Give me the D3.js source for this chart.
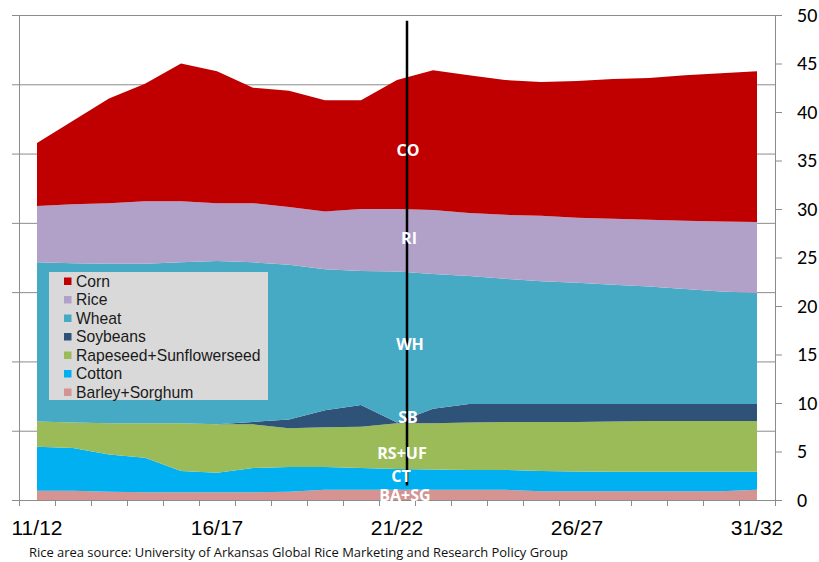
<!DOCTYPE html>
<html>
<head>
<meta charset="utf-8">
<script src="https://cdn.jsdelivr.net/npm/d3@7"></script>
<style>
body{margin:0;background:#fff}
</style>
</head>
<body>
<div id="chart"></div>
<script>
// marketing years
var years = ['11/12','12/13','13/14','14/15','15/16','16/17','17/18','18/19','19/20','20/21',
    '21/22','22/23','23/24','24/25','25/26','26/27','27/28','28/29','29/30','30/31','31/32'];
var shownYears = ['11/12','16/17','21/22','26/27','31/32'];

// area by crop, bottom of the stack first
var barley   = [0.95,0.95,0.85,0.8,0.8,0.8,0.8,0.85,1.05,1.05,1.05,1.05,1.05,1.05,0.9,0.9,0.9,0.9,0.9,0.9,1.05];
var cotton   = [4.55,4.4,3.85,3.55,2.2,2.0,2.5,2.55,2.35,2.25,2.15,2.1,2.05,2.05,2.1,2.05,2.0,2.0,2.0,2.0,1.85];
var rapeseed = [2.6,2.65,3.2,3.55,4.9,5.0,4.5,4.0,4.1,4.25,4.7,4.75,4.9,4.95,5.05,5.1,5.2,5.25,5.25,5.25,5.25];
var soybeans = [0,0,0,0,0,0,0.25,0.9,1.75,2.25,0.1,1.5,1.9,1.85,1.85,1.85,1.8,1.75,1.75,1.75,1.75];
var wheat    = [16.4,16.4,16.45,16.45,16.6,16.85,16.45,15.95,14.55,13.8,15.55,13.9,13.2,12.9,12.65,12.5,12.3,12.1,11.85,11.6,11.45];
var rice     = [5.8,6.1,6.25,6.45,6.3,5.95,6.1,5.95,5.95,6.4,6.45,6.6,6.5,6.6,6.75,6.7,6.8,6.9,7.05,7.2,7.3];
var corn     = [6.5,8.6,10.8,12.1,14.2,13.6,11.9,12.0,11.45,11.2,13.3,14.4,14.2,13.9,13.8,14.1,14.4,14.6,15.0,15.3,15.55];

var keys   = ['barley','cotton','rapeseed','soybeans','wheat','rice','corn'];
var names  = ['Barley+Sorghum','Cotton','Rapeseed+Sunflowerseed','Soybeans','Wheat','Rice','Corn'];
var tags   = ['BA+SG','CT','RS+UF','SB','WH','RI','CO'];
var colors = ['#d59392','#00b0f0','#9bbb59','#2f5279','#46aac5','#b1a1c8','#c00000'];
var series = {barley:barley, cotton:cotton, rapeseed:rapeseed, soybeans:soybeans, wheat:wheat, rice:rice, corn:corn};

var width = 819, height = 562;
var mLeft = 19, mRight = 775, mTop = 15, mBottom = 500;

var rows = years.map(function (yr, i) {
    var r = {year: yr};
    keys.forEach(function (k) { r[k] = series[k][i]; });
    return r;
});
var stacked = d3.stack().keys(keys)(rows);

var svg = d3.select('#chart').append('svg')
    .attr('width', width)
    .attr('height', height)
    .style('font-family', 'Liberation Sans, Arial, sans-serif');

var x = d3.scaleBand().domain(years).range([mLeft, mRight]).padding(0);
var y = d3.scaleLinear().domain([0, 50]).range([mBottom, mTop]);
// left axis has 7 unlabelled divisions
var yLeft = d3.scaleLinear().domain([0, 7]).range([mBottom, mTop]);

var grey = '#8c8c8c';

// gridlines from the left axis
svg.append('g')
    .attr('transform', 'translate(' + mLeft + ',0)')
    .call(d3.axisLeft(yLeft).ticks(7).tickSize(-(mRight - mLeft)).tickFormat(''))
    .call(function (g) {
        g.select('.domain').remove();
        g.selectAll('line').attr('stroke', grey);
    });

var cx = function (d) { return x(d.data.year) + x.bandwidth() / 2; };
var area = d3.area()
    .x(cx)
    .y0(function (d) { return y(d[0]); })
    .y1(function (d) { return y(d[1]); });

svg.append('g').selectAll('path')
    .data(stacked)
    .enter()
    .append('path')
    .attr('d', area)
    .attr('fill', function (d, i) { return colors[i]; });

// left axis, outer ticks only
svg.append('g')
    .attr('transform', 'translate(' + mLeft + ',0)')
    .call(d3.axisLeft(yLeft).ticks(7).tickSize(7).tickFormat(''))
    .call(function (g) {
        g.select('.domain').attr('stroke', grey);
        g.selectAll('line').attr('stroke', grey);
    });

// right axis with values
svg.append('g')
    .attr('transform', 'translate(' + mRight + ',0)')
    .call(d3.axisRight(y).tickValues(d3.range(0, 51, 5)).tickSize(7).tickPadding(15))
    .call(function (g) {
        g.select('.domain').attr('stroke', grey);
        g.selectAll('line').attr('stroke', grey);
        g.selectAll('text')
            .attr('fill', '#000')
            .style('font-size', '20px')
            .style('font-family', 'Carlito, Calibri, Liberation Sans, sans-serif');
    });

// x axis: ticks on band edges, labels every fifth year
var xg = svg.append('g');
xg.append('line')
    .attr('x1', mLeft).attr('x2', mRight)
    .attr('y1', mBottom + 0.5).attr('y2', mBottom + 0.5)
    .attr('stroke', grey);
xg.selectAll('.tick')
    .data(d3.range(years.length + 1))
    .enter()
    .append('line')
    .attr('x1', function (i) { return Math.round(mLeft + i * x.step()) + 0.5; })
    .attr('x2', function (i) { return Math.round(mLeft + i * x.step()) + 0.5; })
    .attr('y1', mBottom)
    .attr('y2', mBottom + 6)
    .attr('stroke', grey);
xg.selectAll('text')
    .data(shownYears)
    .enter()
    .append('text')
    .attr('x', function (d) { return x(d) + x.bandwidth() / 2; })
    .attr('y', 535)
    .attr('text-anchor', 'middle')
    .attr('fill', '#000')
    .style('font-size', '21px')
    .text(function (d) { return d; });

// divider at 21/22
var lineX = x('21/22') + x.bandwidth() / 2 + 10;
svg.append('line')
    .attr('x1', lineX).attr('x2', lineX)
    .attr('y1', y(49.4)).attr('y2', y(1.5))
    .attr('stroke', '#000')
    .attr('stroke-width', 2.5);

// crop tags along the divider
var tagIdx = years.indexOf('21/22');
var tagDx = [-2, -6, -5, 1, 3, 2, 1];
var tagDy = [0, -3, 7, -5, -3, -2, 6];
svg.append('g').selectAll('text')
    .data(stacked)
    .enter()
    .append('text')
    .attr('x', function (d, i) { return lineX + tagDx[i]; })
    .attr('y', function (d, i) { return y((d[tagIdx][0] + d[tagIdx][1]) / 2) + tagDy[i]; })
    .attr('dy', '0.35em')
    .attr('text-anchor', 'middle')
    .attr('fill', '#fff')
    .style('font-family', 'Open Sans, sans-serif')
    .style('font-weight', 'bold')
    .style('font-size', '16px')
    .text(function (d, i) { return tags[i]; });

// legend, top of stack first
var legend = svg.append('g').attr('transform', 'translate(49,272)');
legend.append('rect')
    .attr('width', 219)
    .attr('height', 128)
    .attr('fill', '#d9d9d9');
var order = d3.range(keys.length).reverse();
var item = legend.selectAll('.item')
    .data(order)
    .enter()
    .append('g')
    .attr('transform', function (d, j) { return 'translate(0,' + (9 + j * 18.5) + ')'; });
item.append('rect')
    .attr('x', 15).attr('y', -3.5)
    .attr('width', 7.5).attr('height', 7.5)
    .attr('fill', function (i) { return colors[i]; });
item.append('text')
    .attr('x', 27)
    .attr('dy', '0.36em')
    .attr('fill', '#1a1a1a')
    .style('font-size', '15.7px')
    .text(function (i) { return names[i]; });

svg.append('text')
    .attr('x', 29)
    .attr('y', 557)
    .attr('textLength', 539)
    .attr('lengthAdjust', 'spacingAndGlyphs')
    .attr('fill', '#111')
    .style('font-family', 'Open Sans, sans-serif')
    .style('font-size', '13px')
    .text('Rice area source: University of Arkansas Global Rice Marketing and Research Policy Group');
</script>
</body>
</html>
